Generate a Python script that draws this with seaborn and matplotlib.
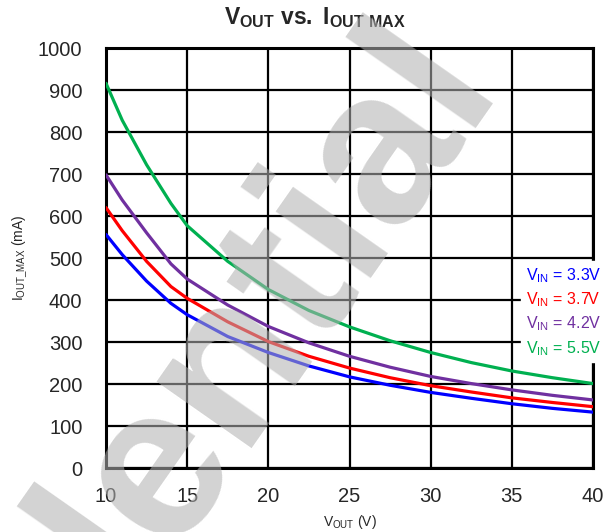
import numpy as np
import pandas as pd
import seaborn as sns
import matplotlib.pyplot as plt

# values
vout = [10, 11, 12.5, 14, 15, 17.5, 20, 22.5, 25, 27.5, 30, 32.5, 35, 37.5, 40]
iout_33 = [556, 508, 445, 392, 365, 313, 275, 243, 217, 197, 180, 166, 153, 142, 133]
iout_37 = [620, 565, 492, 432, 404, 348, 301, 266, 238, 215, 196, 181, 167, 156, 146]
iout_42 = [698, 638, 560, 486, 450, 388, 337, 298, 266, 240, 218, 201, 186, 173, 162]
iout_55 = [916, 828, 722, 630, 577, 492, 425, 375, 336, 303, 275, 251, 231, 215, 201]

labels = ["V$_{\\mathregular{IN}}$ = 3.3V", "V$_{\\mathregular{IN}}$ = 3.7V",
          "V$_{\\mathregular{IN}}$ = 4.2V", "V$_{\\mathregular{IN}}$ = 5.5V"]
colors = ["#0000ff", "#ff0000", "#7030a0", "#00b050"]

df = pd.DataFrame({"vout": vout * 4,
                   "iout": iout_33 + iout_37 + iout_42 + iout_55,
                   "vin": sum([[lab] * len(vout) for lab in labels], [])})

sns.set_style("white")
plt.rcParams["font.family"] = ["Liberation Sans", "DejaVu Sans"]
plt.rcParams["mathtext.fontset"] = "custom"
plt.rcParams["mathtext.rm"] = "Liberation Sans"
plt.rcParams["mathtext.bf"] = "Liberation Sans:bold"

fig = plt.figure(figsize=(6.13, 5.32), dpi=100)
ax = fig.add_axes([106 / 613, 1 - 468 / 532, 487 / 613, 420 / 532])

sns.lineplot(data=df, x="vout", y="iout", hue="vin", palette=colors,
             linewidth=2.3, ax=ax, zorder=3)

ax.set_xlim(10, 40)
ax.set_ylim(0, 1000)
ax.set_xticks(np.arange(10, 41, 5))
ax.set_yticks(np.arange(0, 1001, 100))
ax.grid(True, color="black", linewidth=1.6)
ax.set_axisbelow(True)
for s in ax.spines.values():
    s.set_color("black")
    s.set_linewidth(2.2)
ax.tick_params(length=0, labelsize=14.5)
ax.tick_params(axis="y", pad=17)
ax.tick_params(axis="x", pad=14)
ax.set_xlabel("V$_{\\mathregular{OUT}}$ (V)", fontsize=10, labelpad=5)
ax.set_ylabel("I$_{\\mathregular{OUT\\_MAX}}$ (mA)", fontsize=10, labelpad=6)

leg = ax.legend(loc="center right", bbox_to_anchor=(1.044, 0.372), frameon=True,
                handlelength=0, handletextpad=0, fontsize=11.5, labelspacing=0.35,
                borderpad=0.3, facecolor="white", edgecolor="white", framealpha=1)
for h in leg.legend_handles:
    h.set_visible(False)
for t, c in zip(leg.get_texts(), colors):
    t.set_color(c)
    t.set_ha("right")

fig.text(315 / 613, 1 - 18 / 532, "$\\mathbf{V_{OUT}}$ $\\mathbf{vs.}$ $\\mathbf{I_{OUT\\ MAX}}$",
         ha="center", va="center", fontsize=16.5)

# watermark
fig.text(0.145, -0.07, "Confidential", rotation=55, fontsize=158, fontweight="bold",
         color="#b1b1b1", alpha=0.57, ha="center", va="center", zorder=10,
         rotation_mode="anchor")

fig.savefig("out.png", dpi=100)
